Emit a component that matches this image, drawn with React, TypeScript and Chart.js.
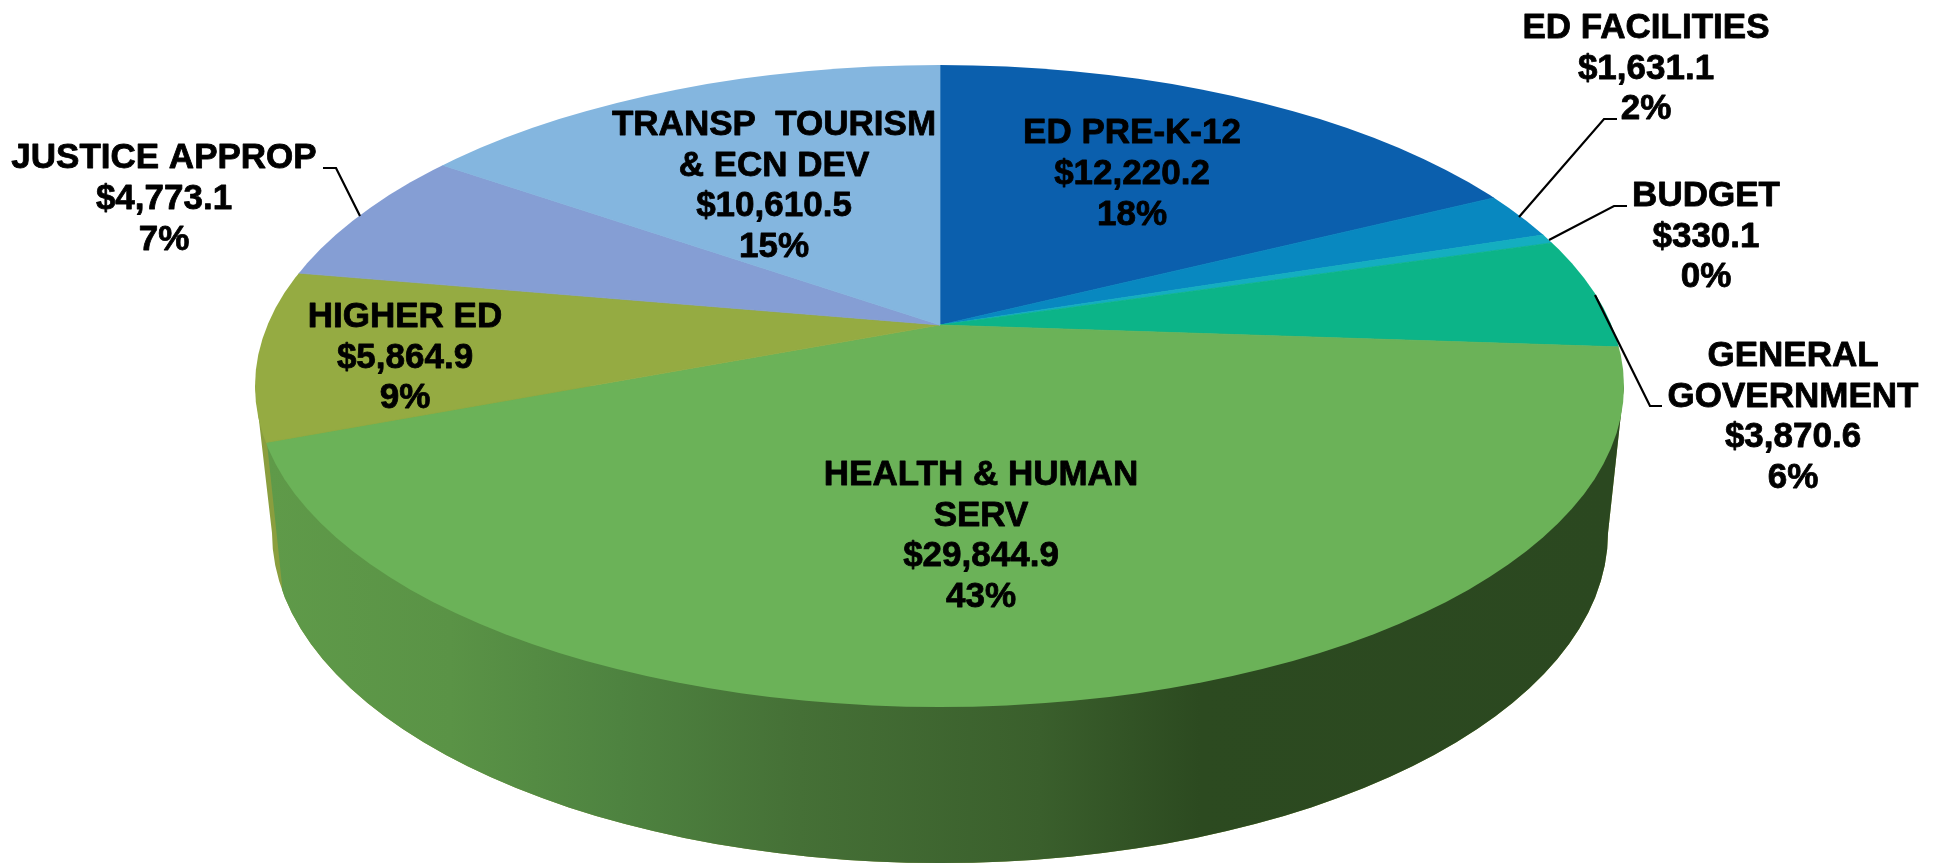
import React, { useEffect, useRef } from "react";
import { Chart, registerables } from "chart.js";

Chart.register(...registerables);

const categories = [
  "ED PRE-K-12",
  "ED FACILITIES",
  "BUDGET",
  "GENERAL GOVERNMENT",
  "HEALTH & HUMAN SERV",
  "HIGHER ED",
  "JUSTICE APPROP",
  "TRANSP  TOURISM & ECN DEV",
];
const values = [12220.2, 1631.1, 330.1, 3870.6, 29844.9, 5864.9, 4773.1, 10610.5];
const percents = ["18%", "2%", "0%", "6%", "43%", "9%", "7%", "15%"];
const colors = ["#0B5FAD", "#0888C0", "#14AEC0", "#0CB488", "#6BB258", "#95AB42", "#859ED4", "#84B6DF"];

const nameLines = [
  ["ED PRE-K-12"],
  ["ED FACILITIES"],
  ["BUDGET"],
  ["GENERAL", "GOVERNMENT"],
  ["HEALTH & HUMAN", "SERV"],
  ["HIGHER ED"],
  ["JUSTICE APPROP"],
  ["TRANSP  TOURISM", "& ECN DEV"],
];

// layout: [centre x, baseline of first line, line step]
const labelLayout = [
  [1132, 143, 41],
  [1646, 38, 40.5],
  [1706, 206, 40.5],
  [1793, 366, 40.5],
  [981, 485, 40.7],
  [405, 327, 40.5],
  [164, 168, 41],
  [774, 135, 40.7],
];
const leaderLayout = [
  [[1519, 217], [1604, 119], [1617, 119]],
  [[1549, 240], [1614, 206], [1627, 206]],
  [[1595, 295], [1650, 406], [1662, 406]],
  [[360, 216], [336, 168], [323, 168]],
];

const APEX = { x: 940, y: 325 };
const TILT = 0.463;
const REACH = 850;
const TOP = { x: 939.5, y: 386, rx: 684.5, ry: 321 };
const LOW = { x: 940, y: 533, rx: 668, ry: 330 };
const WALL_STOPS: [number, string][] = [
  [270, "#5F9A49"],
  [450, "#5A9346"],
  [620, "#4E8340"],
  [800, "#457036"],
  [1040, "#3A5F2C"],
  [1200, "#2C4A20"],
  [1610, "#2B4820"],
];

function wallPath(ctx: CanvasRenderingContext2D) {
  ctx.beginPath();
  ctx.moveTo(TOP.x - TOP.rx, TOP.y);
  ctx.lineTo(LOW.x - LOW.rx, LOW.y);
  ctx.ellipse(LOW.x, LOW.y, LOW.rx, LOW.ry, 0, Math.PI, 0, true);
  ctx.lineTo(TOP.x + TOP.rx, TOP.y);
  ctx.closePath();
}

const piePerspective = {
  id: "piePerspective",
  beforeDatasetsDraw(chart: any) {
    const ctx: CanvasRenderingContext2D = chart.ctx;
    // olive wall sliver of the neighbouring slice, then the green wall
    wallPath(ctx);
    ctx.fillStyle = "#8A9E3E";
    ctx.fill();
    ctx.save();
    ctx.beginPath();
    ctx.moveTo(267, 443);
    ctx.lineTo(282, 585);
    ctx.lineTo(282, 865);
    ctx.lineTo(1940, 865);
    ctx.lineTo(1940, 300);
    ctx.lineTo(267, 300);
    ctx.closePath();
    ctx.clip();
    wallPath(ctx);
    const g = ctx.createLinearGradient(270, 0, 1610, 0);
    WALL_STOPS.forEach(([x, c]) => g.addColorStop((x - 270) / 1340, c));
    ctx.fillStyle = g;
    ctx.fill();
    ctx.restore();

    const arc = chart.getDatasetMeta(0).data[0];
    const s = REACH / arc.outerRadius;
    ctx.save();
    ctx.beginPath();
    ctx.ellipse(TOP.x, TOP.y, TOP.rx, TOP.ry, 0, 0, Math.PI * 2);
    ctx.clip();
    ctx.translate(APEX.x, APEX.y);
    ctx.scale(s, s * TILT);
    ctx.translate(-arc.x, -arc.y);
  },
  afterDatasetsDraw(chart: any) {
    const ctx: CanvasRenderingContext2D = chart.ctx;
    ctx.restore();

    ctx.strokeStyle = "#000";
    ctx.lineWidth = 2.2;
    ctx.lineJoin = "miter";
    leaderLayout.forEach((pts) => {
      ctx.beginPath();
      pts.forEach(([x, y], i) => (i ? ctx.lineTo(x, y) : ctx.moveTo(x, y)));
      ctx.stroke();
    });

    ctx.fillStyle = "#000";
    ctx.font = 'bold 35px "Liberation Sans"';
    ctx.textAlign = "center";
    ctx.textBaseline = "alphabetic";
    ctx.lineWidth = 0.8;
    ctx.lineJoin = "round";
    categories.forEach((_, i) => {
      const [x, y, step] = labelLayout[i];
      const money = "$" + values[i].toLocaleString("en-US", { minimumFractionDigits: 1, maximumFractionDigits: 1 });
      [...nameLines[i], money, percents[i]].forEach((t, k) => {
        ctx.fillText(t, x, y + k * step);
        ctx.strokeText(t, x, y + k * step);
      });
    });
  },
};

export default function App() {
  const ref = useRef<HTMLCanvasElement>(null);
  useEffect(() => {
    const chart = new Chart(ref.current!, {
      type: "pie",
      data: {
        labels: categories,
        datasets: [
          {
            data: values,
            backgroundColor: colors,
            borderColor: colors,
            borderWidth: 0.5,
            clip: false,
          } as any,
        ],
      },
      options: {
        responsive: false,
        animation: false,
        events: [],
        layout: { padding: 0 },
        plugins: { legend: { display: false }, tooltip: { enabled: false } },
      },
      plugins: [piePerspective],
    });
    return () => chart.destroy();
  }, []);
  return (
    <canvas
      ref={ref}
      width={1940}
      height={865}
      style={{ position: "absolute", left: 0, top: 0, display: "block", width: 1940, height: 865 }}
    />
  );
}
